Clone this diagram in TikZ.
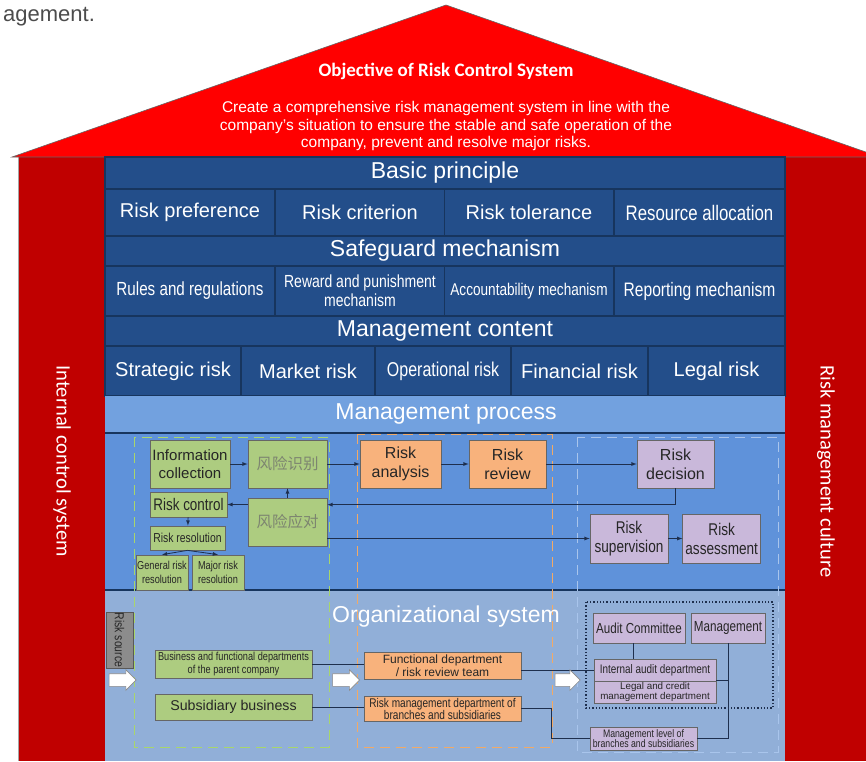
\documentclass[tikz,border=0pt]{standalone}
\usepackage{fontspec}
\setmainfont{Liberation Sans}
\newfontfamily\narrowfont[FakeStretch=0.8]{Liberation Sans}
\newfontfamily\calfont{Carlito}
\newfontfamily\cjkfont{Noto Sans CJK SC}
\usepackage{xcolor}
\usetikzlibrary{shapes.arrows,calc,positioning}

\definecolor{roofred}{HTML}{FF0000}
\definecolor{pillarred}{HTML}{C00000}
\definecolor{navy}{HTML}{234E8A}
\definecolor{navyline}{HTML}{17355E}
\definecolor{prochead}{HTML}{72A1DF}
\definecolor{procblue}{HTML}{5F92DA}
\definecolor{orgblue}{HTML}{91AFD8}
\definecolor{boxgreen}{HTML}{ADCC80}
\definecolor{boxorange}{HTML}{F8B27C}
\definecolor{boxlilac}{HTML}{C9B8DA}
\definecolor{linkline}{HTML}{1E2F4E}
\definecolor{dashgreen}{HTML}{A8D66C}
\definecolor{dashorange}{HTML}{F2AA66}
\definecolor{dashlight}{HTML}{A9C5EC}
\definecolor{cjkgray}{HTML}{7D8570}

\begin{document}
\begin{tikzpicture}[x=1pt,y=-1pt,
  cell/.style={draw=navyline,line width=1.4pt,fill=navy,text=white,inner sep=0pt,align=center,font=\fontsize{20}{22}\selectfont},
  rowhead/.style={cell,font=\fontsize{23}{25}\selectfont},
  narrowcell/.style={cell,font=\narrowfont\fontsize{19}{19}\selectfont},
  procbox/.style={draw=black!60,line width=0.7pt,inner sep=0pt,align=center,text=black!85},
  greenbox/.style={procbox,fill=boxgreen},
  orangebox/.style={procbox,fill=boxorange},
  lilacbox/.style={procbox,fill=boxlilac},
  link/.style={draw=linkline,line width=0.8pt},
  flow/.style={link,-latex},
  hollowarrow/.style={single arrow,draw=black!45,fill=white,line width=0.6pt,minimum height=27pt,inner sep=6pt,single arrow head extend=4pt},
  sidetext/.style={text=white,rotate=-90,anchor=west,font=\calfont\fontsize{20.5}{22}\selectfont},
]
\useasboundingbox (0,0) rectangle (866,761);
\clip (0,0) rectangle (866,761);

% page text above the house
\node[anchor=base west,inner sep=0pt,text=black!70,font=\fontsize{22}{24}\selectfont] (pagetext) at (3,21) {agement.};

% pillars and roof
\fill[pillarred] (18,157) rectangle (105,761);
\fill[pillarred] (785,157) rectangle (866,761);
\draw[black!35,line width=0.5pt] (18,157) -- (18,761);
\filldraw[fill=roofred,draw=black!60,line width=0.6pt] (12,157) -- (446,5) -- (880,157) -- cycle;
\node[text=white,font=\calfont\bfseries\fontsize{19}{22}\selectfont] (goal) at (446,71) {Objective of Risk Control System};
\node[text=white,align=center,font=\fontsize{15.5}{17.5}\selectfont] (goaltext) at (446,126)
  {Create a comprehensive risk management system in line with the\\company's situation to ensure the stable and safe operation of the\\company, prevent and resolve major risks.};

\node[sidetext] (ctrl) at (62,362) {Internal control system};
\node[sidetext] (culture) at (826,362) {Risk management culture};

% principle / mechanism / content rows
\fill[navy] (105,157) rectangle (785,396);
\node[rowhead,minimum width=680pt,minimum height=32pt] (basic) at (445,173) {Basic principle};
\node[cell,minimum width=170pt,minimum height=47pt] (pref) at (190,212.5) {Risk preference};
\node[cell,minimum width=169pt,minimum height=47pt] (crit) at (360,212.5) {Risk criterion};
\node[cell,minimum width=169pt,minimum height=47pt] (tol) at (529,212.5) {Risk tolerance};
\node[narrowcell,minimum width=171pt,minimum height=47pt,font=\narrowfont\fontsize{21}{23}\selectfont] (alloc) at (699.5,212.5) {Resource allocation};

\node[rowhead,minimum width=680pt,minimum height=30pt] (safe) at (445,251) {Safeguard mechanism};
\node[narrowcell,minimum width=170pt,minimum height=50pt] (rules) at (190,291) {Rules and regulations};
\node[narrowcell,minimum width=169pt,minimum height=50pt,font=\narrowfont\fontsize{17.5}{19}\selectfont] (reward) at (360,291) {Reward and punishment\\mechanism};
\node[narrowcell,minimum width=169pt,minimum height=50pt,font=\narrowfont\fontsize{17}{19}\selectfont] (account) at (529,291) {Accountability mechanism};
\node[narrowcell,minimum width=171pt,minimum height=50pt,font=\narrowfont\fontsize{19.5}{21}\selectfont] (report) at (699.5,291) {Reporting mechanism};

\node[rowhead,minimum width=680pt,minimum height=30pt] (content) at (445,331) {Management content};
\node[cell,minimum width=136pt,minimum height=50pt] (strat) at (173,371) {Strategic risk};
\node[cell,minimum width=134pt,minimum height=50pt] (market) at (308,371) {Market risk};
\node[narrowcell,minimum width=136pt,minimum height=50pt,font=\narrowfont\fontsize{20}{22}\selectfont] (oper) at (443,371) {Operational risk};
\node[cell,minimum width=137pt,minimum height=50pt] (fin) at (579.5,371) {Financial risk};
\node[cell,minimum width=137pt,minimum height=50pt] (legalrisk) at (716.5,371) {Legal risk};

% management process
\fill[prochead] (105,396) rectangle (785,433);
\fill[procblue] (105,433) rectangle (785,590);
\fill[orgblue] (105,590) rectangle (785,761);
\draw[navyline,line width=1.2pt] (105,433) -- (785,433);
\draw[navyline,line width=1.2pt] (105,590) -- (785,590);
\node[text=white,font=\fontsize{23}{25}\selectfont] (process) at (446,414) {Management process};

\draw[dashgreen,dash pattern=on 10pt off 6pt,line width=0.8pt] (134,437) rectangle (329,747);
\draw[dashorange,dash pattern=on 10pt off 6pt,line width=0.8pt] (357,434) rectangle (552,747);
\draw[dashlight,dash pattern=on 10pt off 6pt,line width=0.7pt] (577,437) rectangle (778,752);

\node[greenbox,minimum width=80pt,minimum height=48pt,font=\fontsize{15}{18}\selectfont] (info) at (190,464) {Information\\collection};
\node[greenbox,minimum width=79pt,minimum height=48pt,text=cjkgray,font=\cjkfont\fontsize{15.5}{17}\selectfont] (ident) at (287.5,464) {风险识别};
\node[greenbox,minimum width=77pt,minimum height=25pt,font=\narrowfont\fontsize{16.8}{18}\selectfont] (control) at (188.5,504.5) {Risk control};
\node[greenbox,minimum width=79pt,minimum height=48pt,text=cjkgray,font=\cjkfont\fontsize{15.5}{17}\selectfont] (respond) at (287.5,522) {风险应对};
\node[greenbox,minimum width=75pt,minimum height=24pt,font=\narrowfont\fontsize{13}{15}\selectfont] (resol) at (187.5,538) {Risk resolution};
\node[greenbox,minimum width=52pt,minimum height=35pt,font=\narrowfont\fontsize{11.5}{13.5}\selectfont] (general) at (162,572.5) {General risk\\resolution};
\node[greenbox,minimum width=52pt,minimum height=35pt,font=\narrowfont\fontsize{11.5}{13.5}\selectfont] (major) at (218,572.5) {Major risk\\resolution};

\node[orangebox,minimum width=81pt,minimum height=48pt,font=\fontsize{16}{19}\selectfont] (analysis) at (400.5,464) {Risk\\analysis};
\node[orangebox,minimum width=77pt,minimum height=48pt,font=\fontsize{16}{19}\selectfont] (review) at (507.5,464) {Risk\\review};
\node[lilacbox,minimum width=77pt,minimum height=48pt,font=\fontsize{16}{19}\selectfont] (decision) at (675.5,464) {Risk\\decision};
\node[lilacbox,minimum width=78pt,minimum height=49pt,font=\narrowfont\fontsize{17}{19}\selectfont] (supervision) at (629,538.5) {Risk\\supervision};
\node[lilacbox,minimum width=78pt,minimum height=49pt,font=\narrowfont\fontsize{17}{19}\selectfont,right=14pt of supervision] (assessment) {Risk\\assessment};

\draw[flow] (info) -- (ident);
\draw[flow] (ident) -- (analysis);
\draw[flow] (analysis) -- (review);
\draw[flow] (review) -- (decision);
\draw[flow] (decision.south) |- ([yshift=-7pt]respond.north east);
\draw[flow] (respond) -- (ident);
\draw[flow] (respond.west |- control.east) -- (control.east);
\draw[flow] (control) -- (resol);
\draw[flow] (resol.south) -- (general.north);
\draw[flow] (resol.south) -- (major.north);
\draw[flow] (respond.east |- supervision.west) -- (supervision.west);
\draw[flow] (supervision) -- (assessment);

% organizational system
\node[text=white,font=\fontsize{23}{25}\selectfont] (orgsys) at (446,617) {Organizational system};

\node[procbox,fill=black!45,draw=black!65,minimum width=27pt,minimum height=56pt] (source) at (119.5,640) {};
\node[rotate=-90,text=black!85,font=\narrowfont\fontsize{13}{15}\selectfont] (sourcetext) at (source.center) {Risk source};

\node[greenbox,minimum width=157pt,minimum height=28pt,font=\narrowfont\fontsize{11.5}{13}\selectfont] (parent) at (233.5,664) {Business and functional departments\\of the parent company};
\node[greenbox,minimum width=157pt,minimum height=26pt,font=\fontsize{14.2}{16}\selectfont] (subsid) at (233.5,707) {Subsidiary business};
\node[orangebox,minimum width=157pt,minimum height=27pt,font=\fontsize{12}{12.5}\selectfont] (funcdep) at (442.5,665.5) {Functional department\\/ risk review team};
\node[orangebox,minimum width=157pt,minimum height=25pt,font=\narrowfont\fontsize{12.6}{12}\selectfont] (riskdep) at (442.5,708.5) {Risk management department of\\branches and subsidiaries};

\draw[draw=linkline,dotted,line width=1.3pt] (586,602) rectangle (773,708);
\node[lilacbox,minimum width=92pt,minimum height=30pt,font=\narrowfont\fontsize{14.5}{16}\selectfont] (audit) at (639,628) {Audit Committee};
\node[lilacbox,minimum width=74pt,minimum height=30pt,font=\narrowfont\fontsize{14.6}{16}\selectfont] (mgmt) at (728,628) {Management};
\node[lilacbox,minimum width=122pt,minimum height=22pt,font=\narrowfont\fontsize{12.4}{14}\selectfont] (intaudit) at (655,670) {Internal audit department};
\node[lilacbox,minimum width=122pt,minimum height=22pt,font=\fontsize{9.8}{10}\selectfont] (legal) at (655,692) {Legal and credit\\management department};
\node[lilacbox,minimum width=107pt,minimum height=23pt,font=\narrowfont\fontsize{10.9}{10.5}\selectfont] (mlevel) at (643.5,738.5) {Management level of\\branches and subsidiaries};

\draw[link] (parent.east) -- (parent.east -| funcdep.west);
\draw[link] (subsid.east) -- (subsid.east -| riskdep.west);
\draw[link] (funcdep.east |- intaudit.west) -- (intaudit.west);
\draw[link] ([xshift=-6pt]audit.south) -- ([xshift=-6pt]audit.south |- intaudit.north);
\draw[link] (mgmt.south) |- (mlevel.east);
\draw[link] (legal.north east) -- (legal.north east -| mgmt.south);
\draw[link] (riskdep.east) -- ++(30,0) |- (mlevel.west);

\node[hollowarrow] (srcarrow) at (119.5,680) {};
\node[hollowarrow] (midarrow) at (343,680) {};
\node[hollowarrow,minimum height=25pt] (rightarrow) at (564.5,680) {};
\end{tikzpicture}
\end{document}
